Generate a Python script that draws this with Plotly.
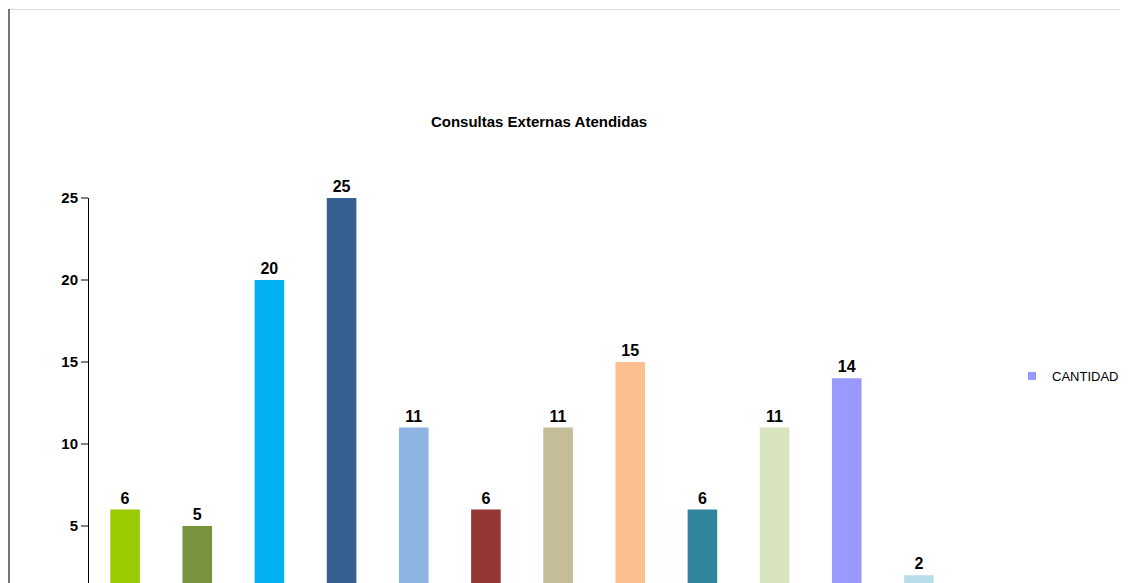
import plotly.graph_objects as go

categories = ["C1", "C2", "C3", "C4", "C5", "C6", "C7", "C8", "C9", "C10", "C11", "C12"]
values = [6, 5, 20, 25, 11, 6, 11, 15, 6, 11, 14, 2]
bar_colors = ["#99CC00", "#77933C", "#00B0F0", "#366092", "#8DB4E2", "#953735",
              "#C4BD97", "#FAC090", "#31859C", "#D7E4BD", "#9999FF", "#B7DEE8"]
series_name = "CANTIDAD"
legend_color = "#9999FF"
title_text = "Consultas Externas Atendidas"

# page has an 8px body margin; figure pixel = page pixel - 8
W, H = 1120, 575
L, R_px, T = 81, 947, 190
pw = R_px - L
ph = H - T

def px_x(p):
    return (p - L) / pw

def px_y(p):
    return 1 - (p - T) / ph

fig = go.Figure()
fig.add_trace(go.Bar(
    x=categories, y=values, marker=dict(color=bar_colors, line=dict(width=0)),
    width=0.41, text=values, textposition="outside", cliponaxis=False,
    textfont=dict(family="Liberation Sans, Arial", size=16, color="#000000", weight="bold"),
    showlegend=False, name=series_name,
))
fig.add_trace(go.Scatter(
    x=[None], y=[None], mode="markers", name=series_name,
    marker=dict(symbol="square", size=8, color=legend_color),
))

fig.update_layout(
    width=W, height=H,
    margin=dict(l=L, r=W - R_px, t=T, b=0, pad=0),
    paper_bgcolor="white", plot_bgcolor="white",
    font=dict(family="Liberation Sans, Arial", color="#000000"),
    title=dict(text="<b>" + title_text + "</b>", x=531 / W, xanchor="center",
               y=1 - 114 / H, yanchor="middle", font=dict(size=15)),
    showlegend=True,
    legend=dict(x=px_x(1004), xanchor="left", y=px_y(368), yanchor="middle",
                font=dict(size=13), itemwidth=30, bgcolor="rgba(0,0,0,0)"),
    xaxis=dict(showticklabels=False, showline=False, showgrid=False, zeroline=False,
               ticks="", range=[-0.5, 11.5]),
    yaxis=dict(range=[1.52, 25], tick0=0, dtick=5, showgrid=False, zeroline=False,
               showline=True, linecolor="#000000", linewidth=1,
               ticks="outside", ticklen=7, tickcolor="#808080", tickwidth=2,
               tickfont=dict(size=15, weight="bold", color="#000000")),
    shapes=[
        dict(type="line", xref="paper", yref="paper", x0=px_x(0), x1=px_x(W),
             y0=px_y(1.5), y1=px_y(1.5),
             line=dict(color="#DDDDDD", width=1)),
        dict(type="line", xref="paper", yref="paper", x0=px_x(1), x1=px_x(1),
             y0=px_y(1), y1=px_y(H),
             line=dict(color="#777777", width=2)),
    ],
)

fig.write_html("out.html",
               post_script="document.documentElement.style.overflow='hidden';document.body.style.overflow='hidden';")
